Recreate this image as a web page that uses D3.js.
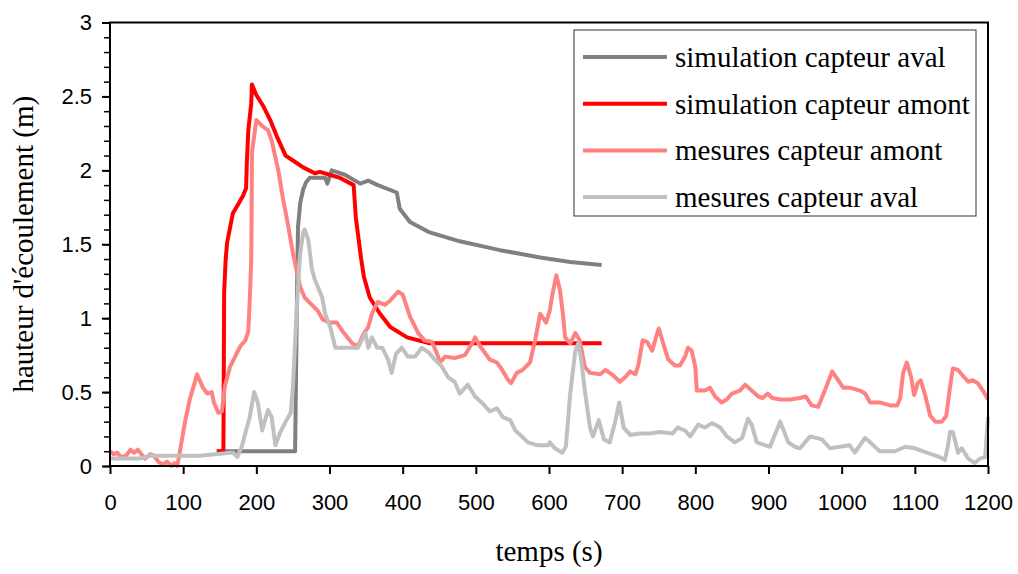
<!DOCTYPE html>
<html>
<head>
<meta charset="utf-8">
<script src="https://cdn.jsdelivr.net/npm/d3@7"></script>
<style>
  body { margin: 0; background: #fff; }
  svg { display: block; }
</style>
</head>
<body>
<script>
const width = 1018
const height = 574

// simulation capteur aval
const simAval = [[146,0.10],[253,0.10],[256,1.33],[257,1.62],[260,1.78],[264,1.87],[268,1.92],[273,1.95],
  [294,1.95],[297,1.91],[303,2.00],[321,1.97],[342,1.91],[353,1.93],[366,1.90],[392,1.85],[396,1.74],
  [410,1.65],[437,1.58],[478,1.52],[533,1.46],[588,1.41],[629,1.38],[672,1.36]]

// simulation capteur amont
const simAmont = [[146,0.10],[155,0.10],[156,1.17],[158,1.39],[160,1.51],[168,1.71],[174,1.76],[182,1.83],
  [186,1.88],[187,2.05],[189,2.27],[193,2.45],[194,2.58],[200,2.51],[210,2.43],[219,2.34],[228,2.23],
  [240,2.10],[249,2.07],[264,2.02],[280,1.98],[287,1.99],[314,1.95],[333,1.90],[336,1.68],[343,1.41],
  [347,1.28],[355,1.14],[369,1.03],[383,0.94],[406,0.87],[437,0.83],[672,0.83]]

// mesures capteur amont
const mesAmont = [[0,0.10],[5,0.08],[10,0.09],[15,0.06],[22,0.07],[28,0.11],[33,0.09],[38,0.11],[43,0.08],
  [48,0.05],[55,0.08],[60,0.07],[66,0.03],[72,0.01],[78,0.03],[84,0.0],[88,0.02],[92,0.0],[103,0.31],
  [109,0.45],[119,0.62],[127,0.53],[133,0.49],[139,0.50],[142,0.43],[148,0.36],[153,0.37],[157,0.54],
  [164,0.67],[171,0.74],[178,0.81],[185,0.85],[189,0.91],[191,1.12],[193,1.39],[193.5,1.66],[194,2.12],
  [200,2.34],[208,2.30],[216,2.27],[221,2.20],[230,2.00],[236,1.82],[243,1.64],[250,1.44],[253,1.37],
  [260,1.21],[266,1.14],[276,1.09],[284,1.05],[291,0.99],[301,0.97],[310,0.97],[318,0.91],[331,0.83],
  [339,0.81],[346,0.89],[353,0.94],[358,1.03],[366,1.11],[376,1.09],[383,1.12],[394,1.18],[400,1.16],
  [410,1.01],[421,0.90],[430,0.85],[440,0.84],[447,0.76],[451,0.70],[458,0.74],[471,0.73],[485,0.75],
  [495,0.83],[499,0.87],[506,0.81],[519,0.72],[529,0.70],[536,0.65],[543,0.59],[548,0.56],[556,0.63],
  [564,0.65],[574,0.70],[581,0.85],[588,1.03],[596,0.97],[601,1.05],[605,1.17],[610,1.29],[615,1.19],
  [619,1.03],[622,0.87],[629,0.83],[636,0.90],[642,0.85],[649,0.67],[656,0.63],[670,0.62],[677,0.65],
  [686,0.62],[697,0.57],[704,0.60],[711,0.64],[718,0.62],[722,0.68],[728,0.85],[734,0.84],[741,0.78],
  [748,0.90],[750,0.93],[756,0.83],[763,0.72],[772,0.68],[779,0.68],[786,0.74],[790,0.80],[795,0.78],
  [800,0.67],[802,0.51],[813,0.51],[820,0.53],[827,0.47],[836,0.43],[843,0.45],[850,0.49],[861,0.51],
  [868,0.55],[877,0.51],[886,0.47],[892,0.46],[899,0.49],[905,0.46],[916,0.45],[929,0.45],[943,0.46],
  [951,0.47],[959,0.41],[968,0.40],[977,0.51],[987,0.64],[994,0.59],[1002,0.53],[1011,0.53],[1025,0.51],
  [1032,0.49],[1039,0.43],[1052,0.43],[1066,0.41],[1076,0.41],[1080,0.46],[1084,0.63],[1089,0.70],
  [1095,0.60],[1099,0.48],[1104,0.56],[1108,0.58],[1114,0.48],[1121,0.34],[1128,0.30],[1137,0.30],
  [1143,0.34],[1148,0.53],[1152,0.66],[1159,0.65],[1164,0.62],[1173,0.57],[1179,0.58],[1186,0.56],
  [1193,0.51],[1200,0.45]]

// mesures capteur aval
const mesAval = [[0,0.05],[41,0.05],[55,0.07],[123,0.07],[164,0.09],[168,0.09],[174,0.06],[180,0.13],
  [187,0.26],[191,0.33],[197,0.50],[202,0.43],[208,0.24],[216,0.38],[221,0.33],[226,0.14],[232,0.22],
  [239,0.29],[247,0.36],[250,0.53],[254,0.94],[258,1.30],[260,1.44],[264,1.58],[266,1.60],[271,1.53],
  [276,1.33],[280,1.26],[290,1.14],[294,1.03],[301,0.94],[308,0.80],[321,0.80],[339,0.80],[344,0.85],
  [349,0.90],[353,0.80],[358,0.87],[365,0.80],[372,0.80],[380,0.72],[385,0.63],[391,0.76],[399,0.80],
  [407,0.74],[417,0.74],[426,0.80],[435,0.77],[444,0.72],[454,0.67],[462,0.60],[471,0.57],[478,0.49],
  [489,0.55],[499,0.47],[508,0.43],[519,0.37],[529,0.39],[537,0.33],[547,0.31],[554,0.24],[563,0.20],
  [571,0.16],[585,0.14],[599,0.14],[601,0.16],[608,0.12],[618,0.09],[623,0.13],[629,0.49],[636,0.78],
  [640,0.83],[644,0.72],[649,0.51],[656,0.26],[660,0.20],[668,0.31],[675,0.18],[683,0.16],[690,0.29],
  [696,0.43],[702,0.26],[711,0.21],[724,0.22],[738,0.22],[752,0.23],[769,0.22],[776,0.26],[786,0.24],
  [793,0.20],[804,0.28],[813,0.26],[823,0.29],[834,0.26],[843,0.20],[854,0.16],[864,0.19],[872,0.32],
  [877,0.28],[884,0.16],[902,0.13],[916,0.30],[927,0.16],[936,0.13],[943,0.12],[957,0.20],[973,0.18],
  [984,0.12],[1011,0.14],[1018,0.09],[1032,0.19],[1039,0.16],[1052,0.10],[1073,0.10],[1087,0.13],
  [1100,0.12],[1134,0.06],[1141,0.04],[1145,0.13],[1148,0.23],[1152,0.23],[1159,0.09],[1164,0.12],
  [1173,0.05],[1182,0.02],[1189,0.05],[1196,0.06],[1200,0.33]]

const xTicks = [0,100,200,300,400,500,600,700,800,900,1000,1100,1200]
const yTicks = [0,0.5,1,1.5,2,2.5,3]

const series = [
  {name: "simulation capteur aval", data: simAval, color: "#808080"},
  {name: "simulation capteur amont", data: simAmont, color: "#ff0000"},
  {name: "mesures capteur amont", data: mesAmont, color: "#ff8282"},
  {name: "mesures capteur aval", data: mesAval, color: "#c0c0c0"}
]

const margin = {left: 110, right: 30, top: 22.5, bottom: 108}

const x = d3.scaleLinear().domain([0, 1200]).range([margin.left, width - margin.right])
const y = d3.scaleLinear().domain([0, 3]).range([height - margin.bottom, margin.top])

const svg = d3.select("body").append("svg")
    .attr("width", width)
    .attr("height", height)

const line = d3.line()
    .x(d => x(d[0]))
    .y(d => y(d[1]))

series.forEach(s => {
  svg.append("path")
      .datum(s.data)
      .attr("fill", "none")
      .attr("stroke", s.color)
      .attr("stroke-width", 4)
      .attr("stroke-linejoin", "round")
      .attr("d", line)
})

// frame
svg.append("rect")
    .attr("x", x(0))
    .attr("y", y(3))
    .attr("width", x(1200) - x(0))
    .attr("height", y(0) - y(3))
    .attr("fill", "none")
    .attr("stroke", "#000")
    .attr("stroke-width", 2)

const xAxis = svg.append("g")
    .attr("transform", `translate(0,${y(0)})`)
    .call(d3.axisBottom(x).tickValues(xTicks).tickSize(8).tickPadding(20).tickFormat(d3.format("d")))
xAxis.select(".domain").remove()
xAxis.selectAll("line").attr("stroke-width", 2)
xAxis.selectAll("text")
    .attr("font-family", "Liberation Sans, Arial, sans-serif")
    .attr("font-size", 22)
    .attr("fill", "#000")

const yMinor = svg.append("g")
    .attr("transform", `translate(${x(0)},0)`)
    .call(d3.axisLeft(y).ticks(30).tickSize(6).tickFormat(""))
yMinor.select(".domain").remove()
yMinor.selectAll("line").attr("stroke-width", 1.5)

const yAxis = svg.append("g")
    .attr("transform", `translate(${x(0)},0)`)
    .call(d3.axisLeft(y).tickValues(yTicks).tickSize(8).tickPadding(10).tickFormat(d3.format("")))
yAxis.select(".domain").remove()
yAxis.selectAll("line").attr("stroke-width", 2)
yAxis.selectAll("text")
    .attr("font-family", "Liberation Sans, Arial, sans-serif")
    .attr("font-size", 22)
    .attr("fill", "#000")

// axis titles
svg.append("text")
    .attr("x", (x(0) + x(1200)) / 2)
    .attr("y", 561)
    .attr("text-anchor", "middle")
    .attr("font-family", "'Liberation Serif', 'Times New Roman', serif")
    .attr("font-size", 29)
    .text("temps (s)")

svg.append("text")
    .attr("transform", `translate(33,${(y(0) + y(3)) / 2}) rotate(-90)`)
    .attr("text-anchor", "middle")
    .attr("font-family", "'Liberation Serif', 'Times New Roman', serif")
    .attr("font-size", 29)
    .text("hauteur d'écoulement (m)")

// legend
const legend = svg.append("g").attr("transform", "translate(574,30)")
legend.append("rect")
    .attr("width", 402)
    .attr("height", 186)
    .attr("fill", "#fff")
    .attr("stroke", "#333")
    .attr("stroke-width", 1)

const rows = legend.selectAll("g.row")
  .data(series)
  .join("g")
    .attr("class", "row")
    .attr("transform", (d, i) => `translate(0,${27 + i * 46.7})`)

rows.append("line")
    .attr("x1", 9)
    .attr("x2", 93)
    .attr("stroke", d => d.color)
    .attr("stroke-width", 4)

rows.append("text")
    .attr("x", 101)
    .attr("y", 10)
    .attr("font-family", "'Liberation Serif', 'Times New Roman', serif")
    .attr("font-size", 29)
    .text(d => d.name)
</script>
</body>
</html>
